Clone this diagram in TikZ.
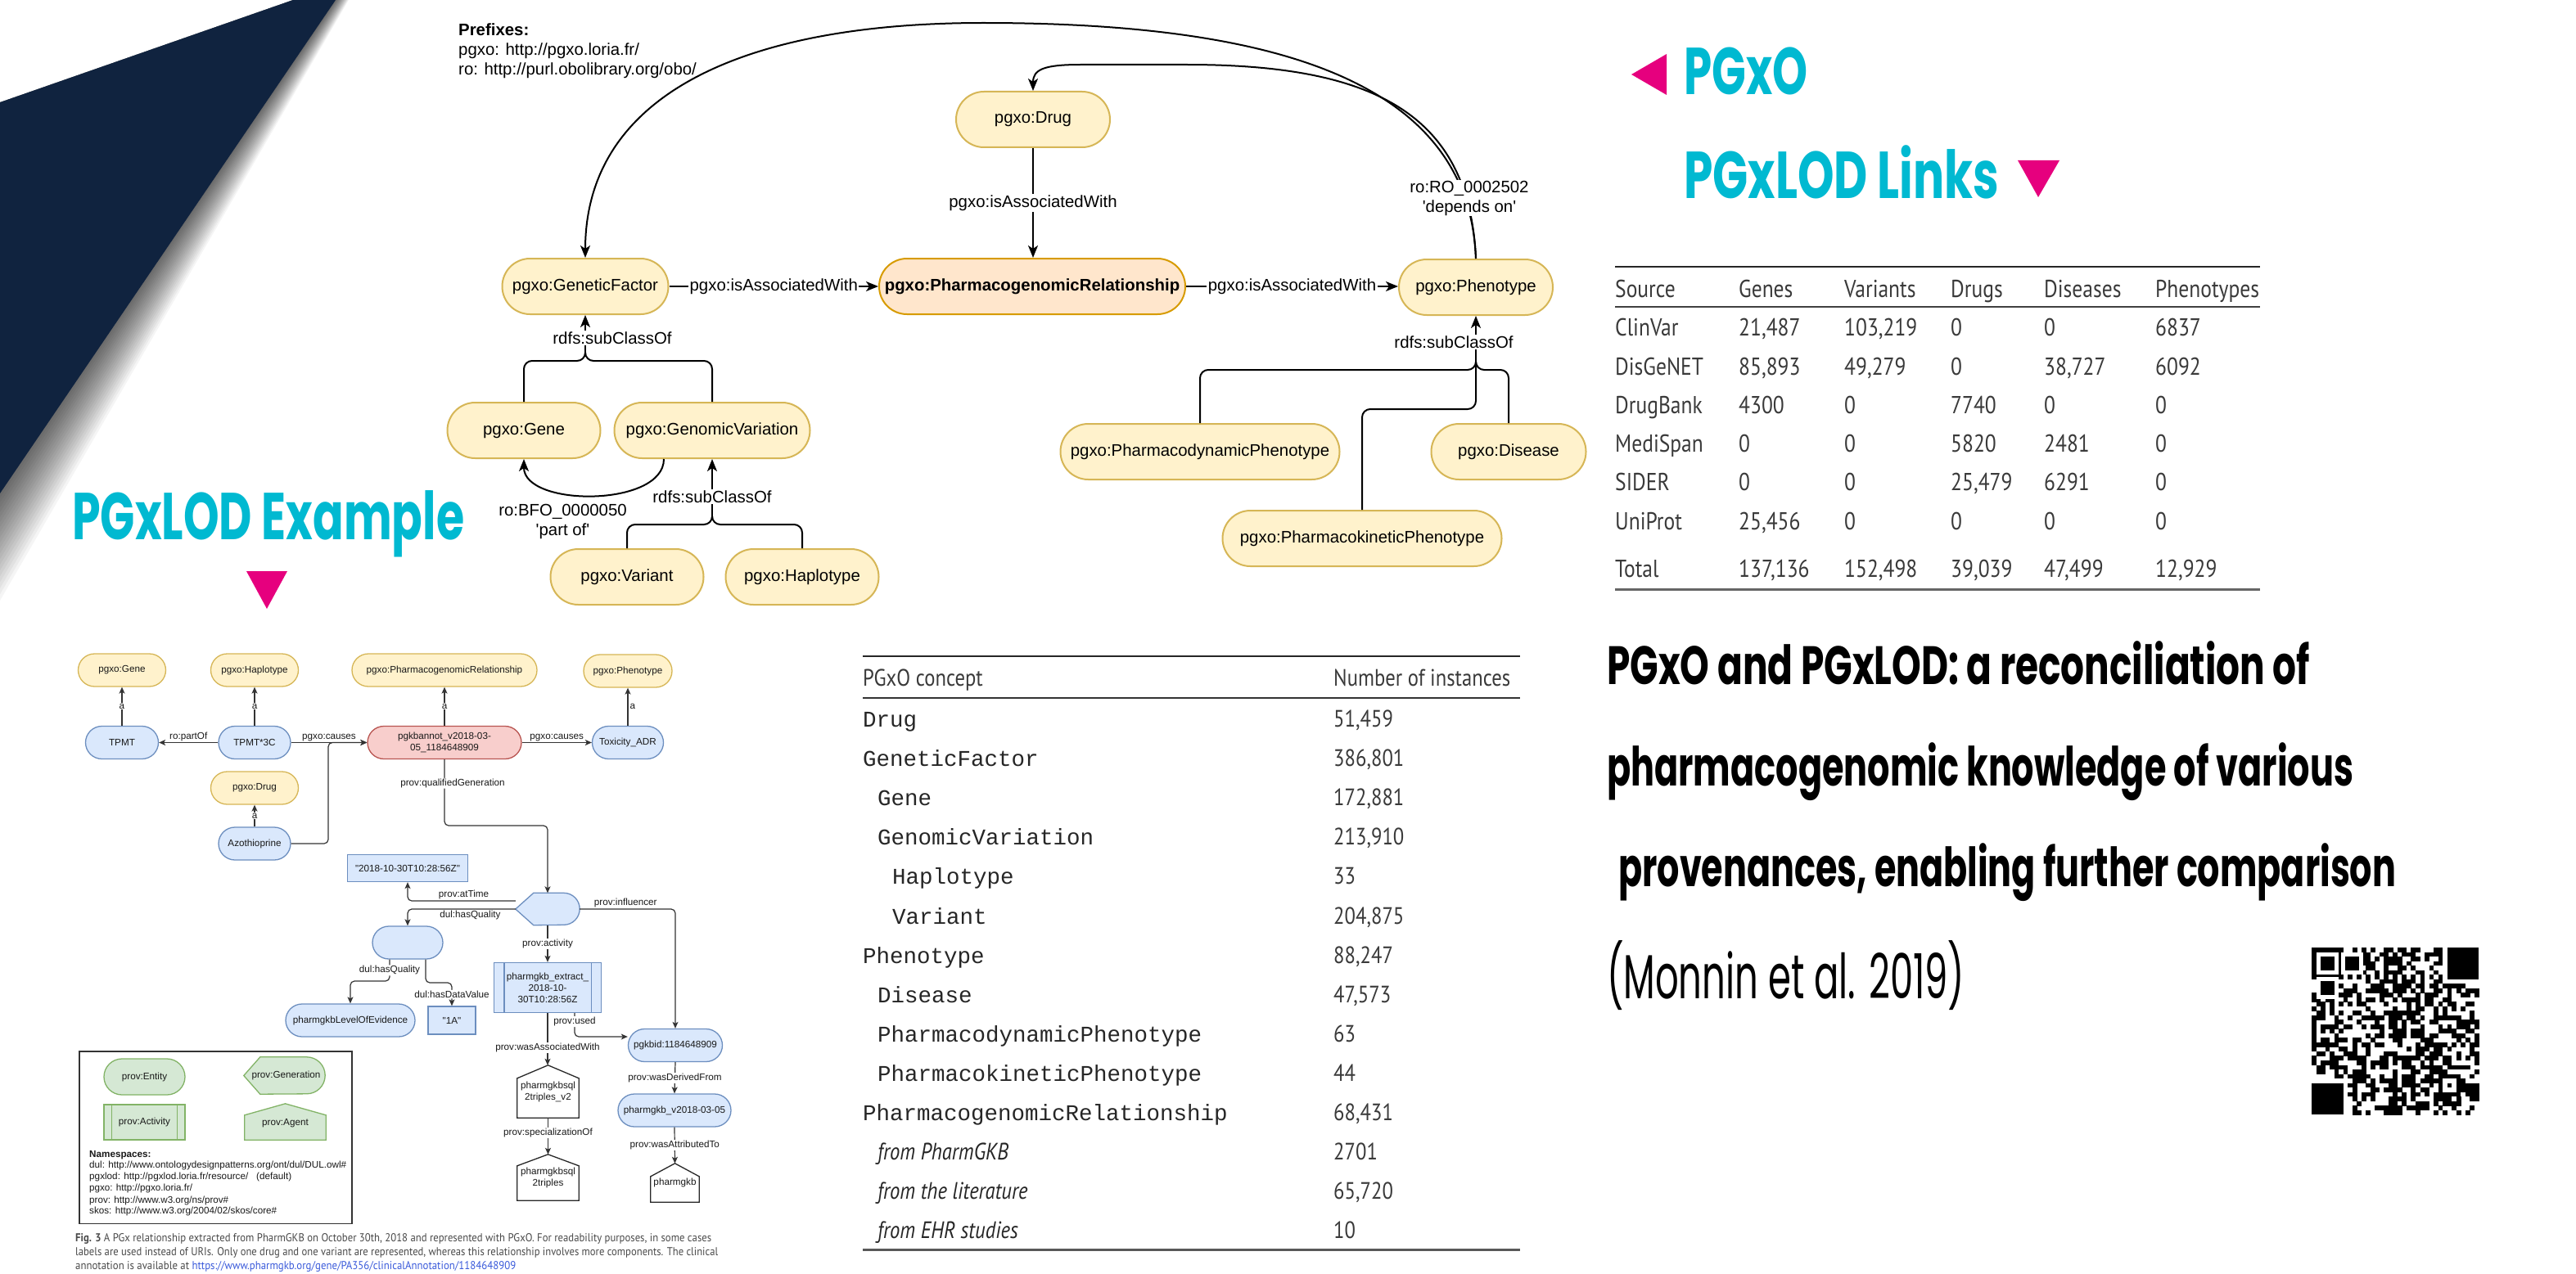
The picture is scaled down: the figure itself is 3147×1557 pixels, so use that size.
\documentclass[tikz,border=0pt]{standalone}
\usepackage{fontspec}
\usepackage{graphicx}
\usetikzlibrary{arrows.meta,calc}
\newfontfamily\arial{Liberation Sans}
\newfontfamily\futura{Poppins}
\newfontfamily\myriad[FakeStretch=0.85]{PT Sans}
\newfontfamily\cour{Liberation Mono}
\newcommand\fitto[2]{\resizebox{#1}{\height}{#2}}
\pgfdeclarelayer{bg}
\pgfsetlayers{bg,main}

\definecolor{navy}{HTML}{10233F}
\definecolor{cyanT}{HTML}{00B9D1}
\definecolor{mag}{HTML}{E6007E}
\definecolor{yelF}{HTML}{FFF2CC}\definecolor{yelD}{HTML}{D6B656}
\definecolor{orF}{HTML}{FFE6CC}\definecolor{orD}{HTML}{D79B00}
\definecolor{bluF}{HTML}{DAE8FC}\definecolor{bluD}{HTML}{6C8EBF}
\definecolor{redF}{HTML}{F8CECC}\definecolor{redD}{HTML}{B85450}
\definecolor{grnF}{HTML}{D5E8D4}\definecolor{grnD}{HTML}{82B366}
\definecolor{tabtext}{HTML}{3A3A3A}
\definecolor{capgrey}{HTML}{4A4A4A}
\definecolor{linkblue}{HTML}{3B5BDB}

\tikzset{
  bigtxt/.style={font=\arial\fontsize{20.4}{24}\selectfont, text=black},
  cls/.style={bigtxt, draw=yelD, fill=yelF, line width=2pt, rounded corners=34pt, minimum height=68pt, inner sep=0pt},
  rel/.style={cls, draw=orD, fill=orF},
  bline/.style={line width=2pt, black},
  barr/.style={bline, -{Stealth[length=15pt, width=12pt, inset=4pt]}},
  blab/.style={bigtxt, fill=white, inner sep=1.5pt},
  smtxt/.style={font=\arial\fontsize{11.7}{14}\selectfont, text=black!90},
  pill/.style={smtxt, line width=1.3pt, rounded corners=20pt, minimum height=40pt, inner sep=0pt, align=center},
  ypill/.style={pill, draw=yelD, fill=yelF},
  bpill/.style={pill, draw=bluD, fill=bluF},
  rpill/.style={pill, draw=redD, fill=redF},
  gpill/.style={pill, draw=grnD, fill=grnF, rounded corners=22pt, minimum height=44pt},
  brect/.style={smtxt, draw=bluD, fill=bluF, line width=1.3pt, inner sep=0pt, align=center},
  shapebox/.style={smtxt, inner sep=0pt, align=center},
  sline/.style={line width=1.2pt, black!80},
  sarr/.style={sline, -{Stealth[length=8pt, width=7pt, inset=2pt]}},
  slab/.style={smtxt, fill=white, inner sep=1pt},
  tcell/.style={font=\myriad\fontsize{30}{30}\selectfont, text=tabtext, anchor=base west, inner sep=0pt},
  mcell/.style={font=\myriad\fontsize{29}{29}\selectfont, text=tabtext, anchor=base west, inner sep=0pt},
  mcode/.style={font=\cour\fontsize{27.5}{28}\selectfont, text=black!85, anchor=base west, inner sep=0pt},
  title/.style={anchor=base west, inner sep=0pt},
}

% pointed-left / round-right shape behind a node
\newcommand\genshape[5]{% node, radius, point depth, fill, draw
  \begin{pgfonlayer}{bg}
  \filldraw[fill=#4, draw=#5, line width=1.3pt] (#1.west) -- ($(#1.north west)+(#3,0)$)
    -- ($(#1.north east)+(-#2,0)$) arc[start angle=90, end angle=-90, radius=#2 pt]
    -- ($(#1.south west)+(#3,0)$) -- cycle;
  \end{pgfonlayer}}
% house shape behind a node
\newcommand\houseshape[4]{% node, shoulder drop, fill, draw
  \begin{pgfonlayer}{bg}
  \filldraw[fill=#3, draw=#4, line width=1.3pt] (#1.south west) -- ($(#1.north west)+(0,#2)$)
    -- (#1.north) -- ($(#1.north east)+(0,#2)$) -- (#1.south east) -- cycle;
  \end{pgfonlayer}}
% rectangle with two inner bars
\newcommand\actbars[3]{% node, inset, colour
  \draw[#3, line width=1.3pt] ($(#1.north west)+(#2,0)$) -- ($(#1.south west)+(#2,0)$)
    ($(#1.north east)+(-#2,0)$) -- ($(#1.south east)+(-#2,0)$);}

\newcommand\trow[8]{%
  \node[tcell] (#1a) at (1973,#2) {#3};
  \node[tcell] (#1b) at (2124,#2) {#4};
  \node[tcell] (#1c) at (2253,#2) {#5};
  \node[tcell] (#1d) at (2383,#2) {#6};
  \node[tcell] (#1e) at (2497,#2) {#7};
  \node[tcell] (#1f) at (2633,#2) {#8};}
\newcommand\mrow[5]{%
  \node[mcode] (#1c) at (#3,#2) {#4};
  \node[mcell] (#1n) at (1629,#2) {#5};}

\def\qrx{2824}\def\qry{1158}\def\qm{5.52}
\newcommand\qrmod[2]{\fill[black] ({\qrx+#1*\qm},{\qry+#2*\qm}) rectangle ++({\qm+0.3},{\qm+0.3});}
\newcommand\qrsq[4]{\fill[#4] ({\qrx+#1*\qm},{\qry+#2*\qm}) rectangle ++({#3*\qm},{#3*\qm});}
\newcommand\qrfinder[2]{\qrsq{#1}{#2}{7}{black}\qrsq{#1+1}{#2+1}{5}{white}\qrsq{#1+2}{#2+2}{3}{black}}

\begin{document}
\begin{tikzpicture}[x=1pt, y=-1pt]
\useasboundingbox (0,0) rectangle (3147,1557);
\begin{pgfonlayer}{bg}
\fill[white] (0,0) rectangle (3147,1557);
\end{pgfonlayer}

% ---------- corner band with soft shadow ----------
\foreach \k in {1,...,20}{
  \fill[black, opacity=0.04] (358,0) -- ({410+0.8*\k},0)
    -- ($({410+0.8*\k},0)!1.4!({3.8*\k},603)$) -- (-100,160) -- cycle;
}
\fill[navy] (358,0) -- (410,0) -- ($(410,0)!1.2!(0,603)$) -- (-100,160) -- cycle;

% ---------- headings ----------
\fill[mag] (1993,91) -- (2036,66) -- (2036,116) -- cycle;
\node[title, text=cyanT] (hpgxo) at (2057,116) {\fitto{151pt}{\futura\bfseries\fontsize{81}{81}\selectfont PGxO}};
\node[title, text=cyanT] (hlinks) at (2057,243) {\fitto{385pt}{\futura\bfseries\fontsize{81}{81}\selectfont PGxLOD Links}};
\fill[mag] (2465,196) -- (2516,196) -- (2490,241) -- cycle;
\node[title, text=cyanT] (hexample) at (88,659) {\fitto{479pt}{\futura\bfseries\fontsize{81}{81}\selectfont PGxLOD Example}};
\fill[mag] (301,698) -- (351,698) -- (326,744) -- cycle;

% ---------- ontology (top) ----------
\node[bigtxt, title] (pref0) at (560,44) {\bfseries Prefixes:};
\node[bigtxt, title] (pref1) at (560,68) {pgxo: http://pgxo.loria.fr/};
\node[bigtxt, title] (pref2) at (560,92) {ro: http://purl.obolibrary.org/obo/};

\node[cls, minimum width=188pt] (drug) at (1262,146) {pgxo:Drug};
\node[rel, minimum width=374pt] (pgr) at (1261,350) {\bfseries pgxo:PharmacogenomicRelationship};
\node[cls, minimum width=203pt] (gf) at (715,350) {pgxo:GeneticFactor};
\node[cls, minimum width=188pt] (phen) at (1803,351) {pgxo:Phenotype};
\node[cls, minimum width=187pt] (gene) at (640,526) {pgxo:Gene};
\node[cls, minimum width=239pt] (gv) at (870,526) {pgxo:GenomicVariation};
\node[cls, minimum width=187pt] (var) at (766,705) {pgxo:Variant};
\node[cls, minimum width=187pt] (hap) at (980,705) {pgxo:Haplotype};
\node[cls, minimum width=341pt] (pdp) at (1466,552) {pgxo:PharmacodynamicPhenotype};
\node[cls, minimum width=189pt] (dis) at (1843,552) {pgxo:Disease};
\node[cls, minimum width=341pt] (pkp) at (1664,658) {pgxo:PharmacokineticPhenotype};

\draw[barr] (drug.south) -- node[blab]{pgxo:isAssociatedWith} (drug.south |- pgr.north);
\draw[barr] (gf.east) -- node[blab]{pgxo:isAssociatedWith} (pgr.west);
\draw[barr] (pgr.east) -- node[blab]{pgxo:isAssociatedWith} (phen.west |- pgr.east);

\coordinate (jgf) at (715,432);
\draw[bline, rounded corners=10pt] (gene.north) -- (640,441) -- (715,441) -- (jgf);
\draw[bline, rounded corners=10pt] (gv.north) -- (870,441) -- (715,441) -- (jgf);
\draw[barr] (jgf) -- node[blab, pos=0.4, xshift=33pt]{rdfs:subClassOf} (gf.south);

\coordinate (jgv) at (870,632);
\draw[bline, rounded corners=10pt] (var.north) -- (766,641) -- (870,641) -- (jgv);
\draw[bline, rounded corners=10pt] (hap.north) -- (980,641) -- (870,641) -- (jgv);
\draw[barr] (jgv) -- node[blab, pos=0.35]{rdfs:subClassOf} (gv.south);

\coordinate (jph) at (1803,444);
\draw[bline, rounded corners=10pt] (pdp.north) -- (1466,452) -- (1803,452) -- (jph);
\draw[bline, rounded corners=10pt] (dis.north) -- (1843,452) -- (1803,452) -- (jph);
\draw[bline, rounded corners=10pt] (pkp.north) -- (1664,500) -- (1803,500) -- (jph);
\draw[barr] (jph) -- node[blab, pos=0.45, xshift=-27pt]{rdfs:subClassOf} (phen.south);

\draw[barr] ($(gv.south)+(-59,0)$) .. controls (811,620) and (640,620) .. (gene.south)
  node[bigtxt, pos=0.5, xshift=-38pt, yshift=-32pt, align=center]{ro:BFO\_0000050\\'part of'};

\draw[barr] (phen.north) .. controls (1795,100) and (1560,28) .. (1201,28)
  .. controls (900,28) and (715,120) .. (gf.north);
\draw[barr] (phen.north) .. controls (1795,140) and (1680,79) .. (1450,79) -- (1320,79)
  .. controls (1275,79) and (1262,85) .. (drug.north);
\node[bigtxt, fill=white, align=center, inner sep=1pt] (dep) at (1795,242) {ro:RO\_0002502\\'depends on'};

% ---------- links table ----------
\draw[line width=2pt, black!85] (1973,326) -- (2761,326);
\draw[line width=2pt, black!75] (1973,375) -- (2761,375);
\draw[line width=3pt, black!60] (1973,720) -- (2761,720);
\trow{th}{363}{Source}{Genes}{Variants}{Drugs}{Diseases}{Phenotypes}
\trow{ta}{410}{ClinVar}{21,487}{103,219}{0}{0}{6837}
\trow{tb}{458}{DisGeNET}{85,893}{49,279}{0}{38,727}{6092}
\trow{tc}{505}{DrugBank}{4300}{0}{7740}{0}{0}
\trow{td}{552}{MediSpan}{0}{0}{5820}{2481}{0}
\trow{te}{599}{SIDER}{0}{0}{25,479}{6291}{0}
\trow{tf}{647}{UniProt}{25,456}{0}{0}{0}{0}
\trow{tg}{705}{Total}{137,136}{152,498}{39,039}{47,499}{12,929}

% ---------- instances table ----------
\draw[line width=2pt, black!85] (1054,802) -- (1857,802);
\draw[line width=2pt, black!80] (1054,853) -- (1857,853);
\draw[line width=3pt, black!65] (1054,1527) -- (1857,1527);
\node[mcell] (mh1) at (1054,838.5) {PGxO concept};
\node[mcell] (mh2) at (1629,838.5) {Number of instances};
\mrow{m0}{888}{1054}{Drug}{51,459}
\mrow{m1}{936}{1054}{GeneticFactor}{386,801}
\mrow{m2}{984}{1072}{Gene}{172,881}
\mrow{m3}{1032}{1072}{GenomicVariation}{213,910}
\mrow{m4}{1080}{1090}{Haplotype}{33}
\mrow{m5}{1129}{1090}{Variant}{204,875}
\mrow{m6}{1177}{1054}{Phenotype}{88,247}
\mrow{m7}{1225}{1072}{Disease}{47,573}
\mrow{m8}{1273}{1072}{PharmacodynamicPhenotype}{63}
\mrow{m9}{1321}{1072}{PharmacokineticPhenotype}{44}
\mrow{m10}{1369}{1054}{PharmacogenomicRelationship}{68,431}
\mrow{m11}{1417}{1072}{\myriad\fontsize{29}{29}\selectfont\itshape from PharmGKB}{2701}
\mrow{m12}{1465}{1072}{\myriad\fontsize{29}{29}\selectfont\itshape from the literature}{65,720}
\mrow{m13}{1513}{1072}{\myriad\fontsize{29}{29}\selectfont\itshape from EHR studies}{10}

% ---------- paper title ----------
\node[title] (t1) at (1963,836) {\fitto{859pt}{\futura\bfseries\fontsize{66}{66}\selectfont PGxO and PGxLOD: a reconciliation of}};
\node[title] (t2) at (1963,960) {\fitto{912pt}{\futura\bfseries\fontsize{66}{66}\selectfont pharmacogenomic knowledge of various}};
\node[title] (t3) at (1977,1083) {\fitto{950pt}{\futura\bfseries\fontsize{66}{66}\selectfont provenances, enabling further comparison}};
\node[title] (t4) at (1963,1220) {\fitto{437pt}{\futura\fontsize{76}{76}\selectfont (Monnin et al. 2019)}};

% ---------- QR code ----------
\pgfmathsetseed{20190}
\foreach \i in {0,...,36}{
  \foreach \j in {0,...,36}{
    \pgfmathrandominteger{\qb}{0}{1}
    \pgfmathtruncatemacro{\qskip}{((\i<8)&&(\j<8))||((\i>28)&&(\j<8))||((\i<8)&&(\j>28))||(\i==6)||(\j==6)||((\i>27)&&(\i<33)&&(\j>27)&&(\j<33))}
    \ifnum\qskip=0 \ifnum\qb=1 \qrmod{\i}{\j}\fi\fi
  }
}
\foreach \t in {8,10,...,28}{\qrmod{\t}{6}\qrmod{6}{\t}}
\qrfinder{0}{0}
\qrfinder{30}{0}
\qrfinder{0}{30}
\qrsq{28}{28}{5}{black}\qrsq{29}{29}{3}{white}\qrsq{30}{30}{1}{black}

% ---------- example graph (bottom left) ----------
\node[ypill, minimum width=107pt] (cgene) at (149,819) {pgxo:Gene};
\node[ypill, minimum width=107pt] (chap) at (311,819) {pgxo:Haplotype};
\node[ypill, minimum width=226pt] (cpgr) at (543,819) {pgxo:PharmacogenomicRelationship};
\node[ypill, minimum width=108pt] (cphen) at (767,820) {pgxo:Phenotype};
\node[bpill, minimum width=89pt] (tpmt) at (149,907.5) {TPMT};
\node[bpill, minimum width=88pt] (tpmt3c) at (311,907.5) {TPMT*3C};
\node[rpill, minimum width=188pt] (pgk) at (543,907.5) {pgkbannot\_v2018-03-\\05\_1184648909};
\node[bpill, minimum width=87pt] (toxadr) at (767,907.5) {Toxicity\_ADR};
\node[ypill, minimum width=107pt] (cdrug) at (311,963) {pgxo:Drug};
\node[bpill, minimum width=88pt] (azo) at (311,1031) {Azothioprine};
\node[brect, minimum width=147pt, minimum height=33pt] (tstamp) at (498,1061) {"2018-10-30T10:28:56Z"};
\node[shapebox, minimum width=78pt, minimum height=39pt] (gen) at (669,1111) {};
\genshape{gen}{19.5}{22}{bluF}{bluD}
\node[bpill, minimum width=86pt] (blank) at (498,1152) {};
\node[brect, minimum width=131pt, minimum height=61pt] (act) at (669,1207) {pharmgkb\_extract\_\\2018-10-\\30T10:28:56Z};
\actbars{act}{13}{bluD}
\node[bpill, minimum width=158pt] (loe) at (428,1247) {pharmgkbLevelOfEvidence};
\node[brect, minimum width=58pt, minimum height=34pt] (onea) at (552,1247) {"1A"};
\node[bpill, minimum width=115pt] (pgkbid) at (825,1277.5) {pgkbid:1184648909};
\node[bpill, minimum width=138pt] (pv) at (824,1357) {pharmgkb\_v2018-03-05};
\node[shapebox, minimum width=75pt, minimum height=64pt] (ag1) at (669.5,1334) {pharmgkbsql\\2triples\_v2};
\houseshape{ag1}{16}{white}{black!85}
\node[shapebox, minimum width=75pt, minimum height=56pt] (ag2) at (669.5,1439) {pharmgkbsql\\2triples};
\houseshape{ag2}{14}{white}{black!85}
\node[shapebox, minimum width=59pt, minimum height=47pt] (ag3) at (824.5,1445.5) {pharmgkb};
\houseshape{ag3}{16}{white}{black!85}

\draw[sarr] (tpmt) -- node[slab]{a} (cgene);
\draw[sarr] (tpmt3c) -- node[slab]{a} (chap);
\draw[sarr] (pgk) -- node[slab]{a} (cpgr);
\draw[sarr] (toxadr) -- node[smtxt, right, inner sep=2pt]{a} (cphen);
\draw[sarr] (azo) -- node[slab]{a} (cdrug);
\draw[sarr] (tpmt3c) -- node[smtxt, above, inner sep=1pt]{ro:partOf} (tpmt);
\draw[sarr] (tpmt3c) -- node[smtxt, above, inner sep=1pt]{pgxo:causes} (pgk);
\draw[sarr, rounded corners=5pt] (azo.east) -- (401,1031) -- (401,907.5) -- (pgk.west);
\draw[sarr] (pgk) -- node[smtxt, above, inner sep=1pt]{pgxo:causes} (toxadr);
\draw[sarr, rounded corners=5pt] (pgk.south) -- node[slab, pos=0.36, xshift=10pt]{prov:qualifiedGeneration} (543,1009) -- (669,1009) -- (gen.north);
\draw[sarr, rounded corners=5pt] ($(gen.west)+(0,-10)$) -- node[smtxt, above, inner sep=1pt, pos=0.48]{prov:atTime} (498,1101) -- (tstamp.south);
\draw[sarr, rounded corners=5pt] (gen.west) -- node[smtxt, below, inner sep=1pt, pos=0.42]{dul:hasQuality} (gen.west -| blank.north) -- (blank.north);
\draw[sarr, rounded corners=5pt] (gen.east) -- node[smtxt, above, inner sep=1pt, pos=0.48]{prov:influencer} (gen.east -| pgkbid.north) -- (pgkbid.north);
\draw[sarr] (gen.south) -- node[slab]{prov:activity} (act.north);
\draw[sarr, rounded corners=5pt] ($(blank.south)+(-22,0)$) -- node[slab]{dul:hasQuality} (476,1199) -- (428,1199) -- (loe.north);
\draw[sarr, rounded corners=5pt] ($(blank.south)+(22,0)$) -- (520,1201) -- (552,1201) -- node[slab]{dul:hasDataValue} (onea.north);
\draw[sarr, rounded corners=5pt] ($(act.south)+(33,0)$) -- node[slab, pos=0.36]{prov:used} (702,1267) -- ($(pgkbid.west)+(0,-10.5)$);
\draw[sarr] (act.south) -- node[slab, pos=0.66]{prov:wasAssociatedWith} (act.south |- ag1.north);
\draw[sarr] (ag1.south) -- node[slab, pos=0.42]{prov:specializationOf} (ag2.north);
\draw[sarr] (pgkbid.south) -- node[slab]{prov:wasDerivedFrom} (pv.north);
\draw[sarr] (pv.south) -- node[slab]{prov:wasAttributedTo} (ag3.north);

% ---------- legend ----------
\draw[line width=1.5pt, black!80] (97,1285) rectangle (430,1495.5);
\node[gpill, minimum width=99pt] (lent) at (176.5,1316) {prov:Entity};
\node[shapebox, minimum width=99pt, minimum height=45pt] (lgen) at (347.5,1314.5) {\hspace*{4pt}prov:Generation};
\genshape{lgen}{22.5}{20}{grnF}{grnD}
\node[smtxt, draw=grnD, fill=grnF, line width=1.3pt, minimum width=99pt, minimum height=43pt, inner sep=0pt] (lact) at (176.5,1371.5) {prov:Activity};
\actbars{lact}{10}{grnD}
\node[shapebox, minimum width=99pt, minimum height=44pt] (lag) at (348.5,1371) {\\[-2pt]prov:Agent};
\houseshape{lag}{14}{grnF}{grnD}
\node[smtxt, title] (ns0) at (109,1414) {\bfseries Namespaces:};
\node[smtxt, title] (ns1) at (109,1427) {\fitto{314pt}{dul: http://www.ontologydesignpatterns.org/ont/dul/DUL.owl\#}};
\node[smtxt, title] (ns2) at (109,1441.5) {\fitto{247pt}{pgxlod: http://pgxlod.loria.fr/resource/\ \ \ (default)}};
\node[smtxt, title] (ns3) at (109,1455) {\fitto{126pt}{pgxo: http://pgxo.loria.fr/}};
\node[smtxt, title] (ns4) at (109,1470) {\fitto{170pt}{prov: http://www.w3.org/ns/prov\#}};
\node[smtxt, title] (ns5) at (109,1483) {\fitto{229pt}{skos: http://www.w3.org/2004/02/skos/core\#}};

% ---------- caption ----------
\node[title, text=capgrey] (cap1) at (92,1517) {\fitto{777pt}{\myriad\fontsize{14}{14}\selectfont\textbf{Fig. 3} A PGx relationship extracted from PharmGKB on October 30th, 2018 and represented with PGxO. For readability purposes, in some cases}};
\node[title, text=capgrey] (cap2) at (92,1534) {\fitto{785pt}{\myriad\fontsize{14}{14}\selectfont labels are used instead of URIs. Only one drug and one variant are represented, whereas this relationship involves more components. The clinical}};
\node[title, text=capgrey] (cap3) at (92,1551) {\fitto{538pt}{\myriad\fontsize{14}{14}\selectfont annotation is available at \textcolor{linkblue}{https://www.pharmgkb.org/gene/PA356/clinicalAnnotation/1184648909}}};
\end{tikzpicture}
\end{document}
